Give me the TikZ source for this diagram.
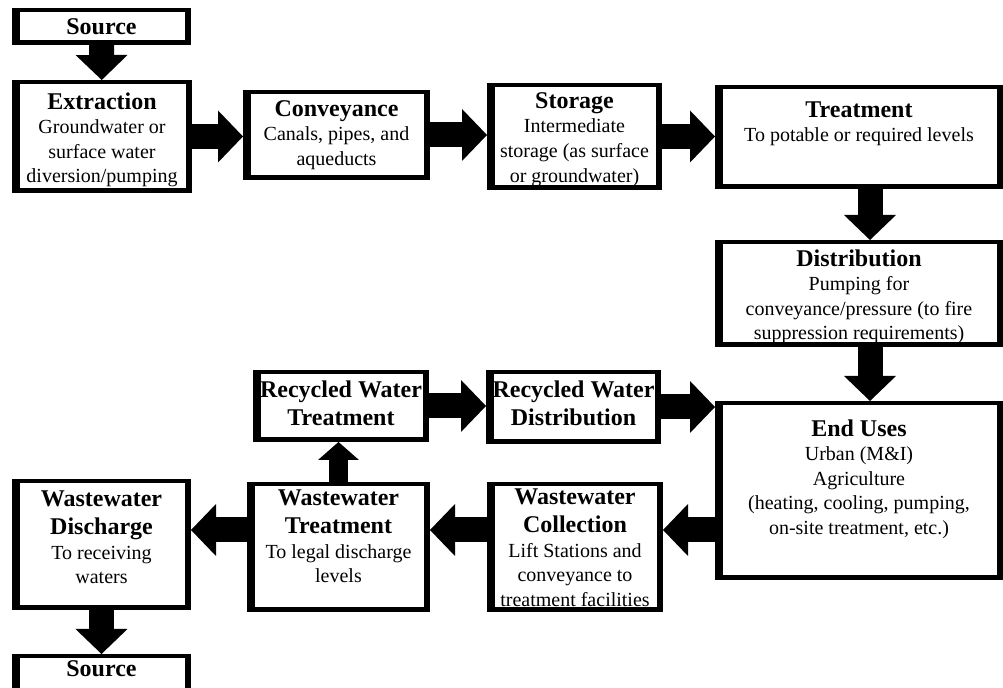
\documentclass[tikz,border=0pt]{standalone}
\usepackage{fontspec}
\setmainfont{Liberation Serif}
\usetikzlibrary{arrows.meta, positioning}

\newcommand{\hd}[1]{{\fontsize{12}{14}\selectfont\bfseries #1}}

\begin{document}
\begin{tikzpicture}[
		x=0.5pt, y=-0.5pt,
		stage/.style={fill=black, inner sep=0pt, outer sep=0pt,
			path picture={\fill[white] ([shift={(4pt,2.5pt)}]path picture bounding box.south west) rectangle ([shift={(-3pt,-2pt)}]path picture bounding box.north east);}},
		box size/.style 2 args={minimum width=#1*0.5pt, minimum height=#2*0.5pt},
		txt/.style={align=center, inner sep=0pt, font=\fontsize{10}{12.3}\selectfont},
		flow/.style={line width=12.5pt, -{Triangle[length=12.5pt, width=26pt, line width=0pt]}},
		small flow/.style={line width=9.5pt, -{Triangle[length=9pt, width=20.5pt, line width=0pt]}}
		]
		\useasboundingbox (0,0) rectangle (1003,688);
		\clip (0,0) rectangle (1003,688);
		
		% supply side
		\node[stage, box size={179}{37}]  (srcA)    at (101.5,26.5) {};
		\node[txt] (srcA-t) at (srcA) {\hd{Source}};
		\node[stage, box size={180}{113}] (extract) at (102,136.5) {};
		\node[txt, below=6pt of extract.north] (extract-t) {\hd{Extraction}\\Groundwater or\\surface water\\diversion/pumping};
		\node[stage, box size={187}{90}]  (convey)  at (336.5,135) {};
		\node[txt, below=5pt of convey.north] (convey-t) {\hd{Conveyance}\\Canals, pipes, and\\aqueducts};
		\node[stage, box size={175}{107}] (store)   at (574.5,136.5) {};
		\node[txt, below=4.5pt of store.north] (store-t) {\hd{Storage}\\Intermediate\\storage (as surface\\or groundwater)};
		\node[stage, box size={288}{104}] (treat)   at (859,137) {};
		\node[txt, below=8pt of treat.north] (treat-t) {\hd{Treatment}\\To potable or required levels};
		
		% right column
		\node[stage, box size={288}{107}] (distrib) at (859,293.5) {};
		\node[txt, below=4.5pt of distrib.north] (distrib-t) {\hd{Distribution}\\Pumping for\\conveyance/pressure (to fire\\suppression requirements)};
		\node[stage, box size={288}{179}] (enduse)  at (859,490.5) {};
		\node[txt, below=9pt of enduse.north] (enduse-t) {\hd{End Uses}\\Urban (M\&I)\\Agriculture\\(heating, cooling, pumping,\\on-site treatment, etc.)};
		
		% recycled water
		\node[stage, box size={176}{72}]  (rwtreat) at (341,406) {};
		\node[txt, below=5pt of rwtreat.north] (rwtreat-t) {\hd{Recycled Water}\\[2pt]\hd{Treatment}};
		\node[stage, box size={175}{74}]  (rwdist)  at (573.5,407) {};
		\node[txt, below=5pt of rwdist.north] (rwdist-t) {\hd{Recycled Water}\\[2pt]\hd{Distribution}};
		
		% wastewater side
		\node[stage, box size={176}{130}] (wwcoll)  at (575,547) {};
		\node[txt, below=3pt of wwcoll.north] (wwcoll-t) {\hd{Wastewater}\\[2pt]\hd{Collection}\\Lift Stations and\\conveyance to\\treatment facilities};
		\node[stage, box size={183}{130}] (wwtreat) at (338.5,547) {};
		\node[txt, below=3.5pt of wwtreat.north] (wwtreat-t) {\hd{Wastewater}\\[2pt]\hd{Treatment}\\To legal discharge\\levels};
		\node[stage, box size={179}{131}] (wwdis)   at (101.5,544.5) {};
		\node[txt, below=5.5pt of wwdis.north] (wwdis-t) {\hd{Wastewater}\\[2pt]\hd{Discharge}\\To receiving\\waters};
		\node[stage, box size={179}{65}]  (srcB)    at (101.5,686.5) {};
		\node[txt, below=3pt of srcB.north] (srcB-t) {\hd{Source}};
		
		\coordinate (rcol) at (870,0);
		\coordinate (wwrow) at (0,530);
		
		% flows
		\draw[flow] (srcA) -- (extract);
		\draw[flow] (extract.east) -- (extract.east -| convey.west);
		\draw[flow] (convey.east) -- (convey.east -| store.west);
		\draw[flow] (store.east) -- (store.east -| treat.west);
		\draw[flow] (treat.south -| rcol) -- (distrib.north -| rcol);
		\draw[flow] (distrib.south -| rcol) -- (enduse.north -| rcol);
		\draw[flow] (rwtreat.east) -- (rwtreat.east -| rwdist.west);
		\draw[flow] (rwdist.east) -- (rwdist.east -| enduse.west);
		\draw[flow] (enduse.west |- wwrow) -- (wwcoll.east |- wwrow);
		\draw[flow] (wwcoll.west |- wwrow) -- (wwtreat.east |- wwrow);
		\draw[flow] (wwtreat.west |- wwrow) -- (wwdis.east |- wwrow);
		\draw[small flow] (wwtreat.north) -- (rwtreat.south -| wwtreat.north);
		\draw[flow] (wwdis) -- (srcB);
		
	\end{tikzpicture}
\end{document}
